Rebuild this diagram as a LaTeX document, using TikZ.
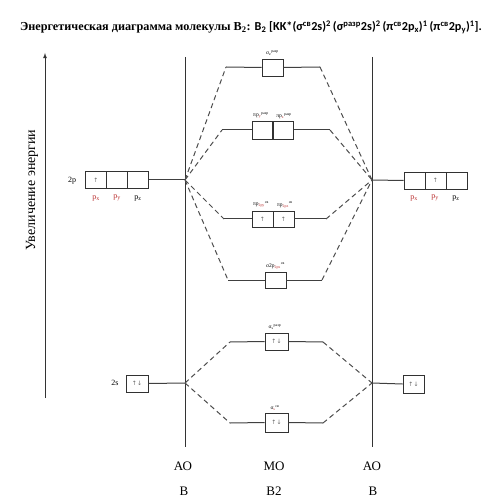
\documentclass[tikz,border=0pt]{standalone}
\usepackage{fontspec}
\setmainfont{Liberation Serif}
\newfontfamily\calib{Carlito}
\newfontfamily\arrf{DejaVu Sans}
\definecolor{lvlred}{RGB}{185,45,45}
\definecolor{boxgray}{RGB}{50,50,50}
\begin{document}
\begin{tikzpicture}[x=1pt,y=-1pt,
  cell/.style={draw=boxgray, line width=0.8pt, minimum width=21pt, minimum height=17pt, inner sep=0pt, font=\arrf\fontsize{6}{6}\selectfont, text=black!60},
  lvl/.style={draw=black!75, line width=1pt},
  dsh/.style={draw=black!70, line width=1pt, dash pattern=on 5pt off 3.5pt},
  axisline/.style={draw=black!80, line width=0.8pt},
  sml/.style={font=\fontsize{5.5}{5.5}\selectfont, inner sep=0pt},
  plab/.style={font=\fontsize{8}{8}\selectfont, inner sep=0pt},
  bot/.style={font=\fontsize{13}{13}\selectfont, inner sep=0pt}
]
\useasboundingbox (0,0) rectangle (500,502);
% title
\node[inner sep=0pt, anchor=center] (title) at (251,27) {\fontsize{12.2}{14}\selectfont\bfseries Энергетическая диаграмма молекулы B\textsubscript{2}: {\calib B\textsubscript{2} [KK*(σ\textsuperscript{св}2s)\textsuperscript{2}\,(σ\textsuperscript{разр}2s)\textsuperscript{2}\,(π\textsuperscript{св}2p\textsubscript{x})\textsuperscript{1}\,(π\textsuperscript{св}2p\textsubscript{y})\textsuperscript{1}].}};
% energy axis
\coordinate (eb) at (45,398);
\coordinate (et) at (45,53);
\draw[axisline,-latex] (eb) -- (et);
\node[rotate=90, inner sep=0pt, font=\fontsize{14}{14}\selectfont] (elab) at (32,190) {Увеличение энергии};
% vertical lines
\coordinate (lt) at (185,57); \coordinate (lb) at (185,447);
\coordinate (rt) at (372,57); \coordinate (rb) at (372,447);
\draw[axisline] (lt) -- (lb);
\draw[axisline] (rt) -- (rb);
% junction points
\coordinate (LA2p) at (185,180); \coordinate (RA2p) at (372,180);
\coordinate (LA2s) at (185,383); \coordinate (RA2s) at (372,383);
% left 2p
\node[plab] (l2plab) at (72,181) {2p};
\node[cell] (l2p1) at (96,180) {↑};
\node[cell] (l2p2) at (117,180) {};
\node[cell] (l2p3) at (138,180) {};
\node[plab, text=lvlred] (lpx) at (96,198) {p\textsubscript{x}};
\node[plab, text=lvlred] (lpy) at (117,198) {p\textsubscript{y}};
\node[plab] (lpz) at (138,198) {p\textsubscript{z}};
\draw[lvl] (l2p3.east) -- (LA2p);
% right 2p
\node[cell] (r2p1) at (414.5,180.5) {};
\node[cell] (r2p2) at (435.5,180.5) {↑};
\node[cell] (r2p3) at (456.5,180.5) {};
\node[plab, text=lvlred] (rpx) at (414,198) {p\textsubscript{x}};
\node[plab, text=lvlred] (rpy) at (435,198) {p\textsubscript{y}};
\node[plab] (rpz) at (456,198) {p\textsubscript{z}};
\draw[lvl] (RA2p) -- (r2p1.west);
% left 2s
\node[plab] (l2slab) at (115,383) {2s};
\node[cell, minimum width=22pt] (l2s) at (137,383.5) {↑↓};
\draw[lvl] (l2s.east) -- (LA2s);
% right 2s
\node[cell, minimum height=18pt] (r2s) at (413.5,384) {↑↓};
\draw[lvl] (RA2s) -- (r2s.west);
% MO sigma* 2p
\node[cell] (ss2p) at (272.5,67.5) {};
\node[sml] (ss2plab) at (272.5,53) {σ\textsubscript{z}\textsuperscript{разр}};
\coordinate (a1l) at (226,67); \coordinate (a1r) at (320,67);
\draw[lvl] (a1l) -- (ss2p.west); \draw[lvl] (ss2p.east) -- (a1r);
\draw[dsh] (LA2p) -- (a1l); \draw[dsh] (a1r) -- (RA2p);
% MO pi*
\node[cell, minimum height=18pt] (pa1) at (262.5,130) {};
\node[cell, minimum height=18pt] (pa2) at (283,130) {};
\node[sml] (pa1lab) at (261,116) {πp\textsubscript{\color{lvlred}y}\textsuperscript{разр}};
\node[sml] (pa2lab) at (284,116) {πp\textsubscript{\color{lvlred}z}\textsuperscript{разр}};
\coordinate (a2l) at (222,130); \coordinate (a2r) at (330,130);
\draw[lvl] (a2l) -- (pa1.west); \draw[lvl] (pa2.east) -- (a2r);
\draw[dsh] (LA2p) -- (a2l); \draw[dsh] (a2r) -- (RA2p);
% MO pi bonding
\node[cell, minimum height=16pt] (pb1) at (262.5,219) {↑};
\node[cell, minimum height=16pt] (pb2) at (283.5,219) {↑};
\node[sml] (pb1lab) at (261,205) {πp\textsubscript{\color{lvlred}2py}\textsuperscript{св}};
\node[sml] (pb2lab) at (285,205) {πp\textsubscript{\color{lvlred}2pz}\textsuperscript{св}};
\coordinate (b1l) at (224,219); \coordinate (b1r) at (326,219);
\draw[lvl] (b1l) -- (pb1.west); \draw[lvl] (pb2.east) -- (b1r);
\draw[dsh] (LA2p) -- (b1l); \draw[dsh] (b1r) -- (RA2p);
% MO sigma 2p bonding
\node[cell, minimum height=16pt] (sb2p) at (275.5,280) {};
\node[sml] (sb2plab) at (275.5,266) {σ2p\textsubscript{\color{lvlred}2px}\textsuperscript{св}};
\coordinate (b2l) at (228,280); \coordinate (b2r) at (322,280);
\draw[lvl] (b2l) -- (sb2p.west); \draw[lvl] (sb2p.east) -- (b2r);
\draw[dsh] (LA2p) -- (b2l); \draw[dsh] (b2r) -- (RA2p);
% MO sigma* 2s
\node[cell, minimum width=23pt] (ss2s) at (276.5,341.5) {↑↓};
\node[sml] (ss2slab) at (275,327) {σ\textsubscript{s}\textsuperscript{разр}};
\coordinate (a3l) at (230,342); \coordinate (a3r) at (323,342);
\draw[lvl] (a3l) -- (ss2s.west); \draw[lvl] (ss2s.east) -- (a3r);
\draw[dsh] (LA2s) -- (a3l); \draw[dsh] (a3r) -- (RA2s);
% MO sigma 2s bonding
\node[cell, minimum width=23pt, minimum height=19pt] (sb2s) at (276.5,422.5) {↑↓};
\node[sml] (sb2slab) at (275,408) {σ\textsubscript{\color{lvlred}s}\textsuperscript{св}};
\coordinate (b3l) at (230,423); \coordinate (b3r) at (323,423);
\draw[lvl] (b3l) -- (sb2s.west); \draw[lvl] (sb2s.east) -- (b3r);
\draw[dsh] (LA2s) -- (b3l); \draw[dsh] (b3r) -- (RA2s);
% bottom labels
\node[bot] (ao1) at (183,466) {АО};
\node[bot] (mo) at (274,466) {МО};
\node[bot] (ao2) at (372,466) {АО};
\node[bot] (b1) at (184,491) {B};
\node[bot] (b2) at (274,491) {B2};
\node[bot] (b3) at (373,491) {B};
\end{tikzpicture}
\end{document}
